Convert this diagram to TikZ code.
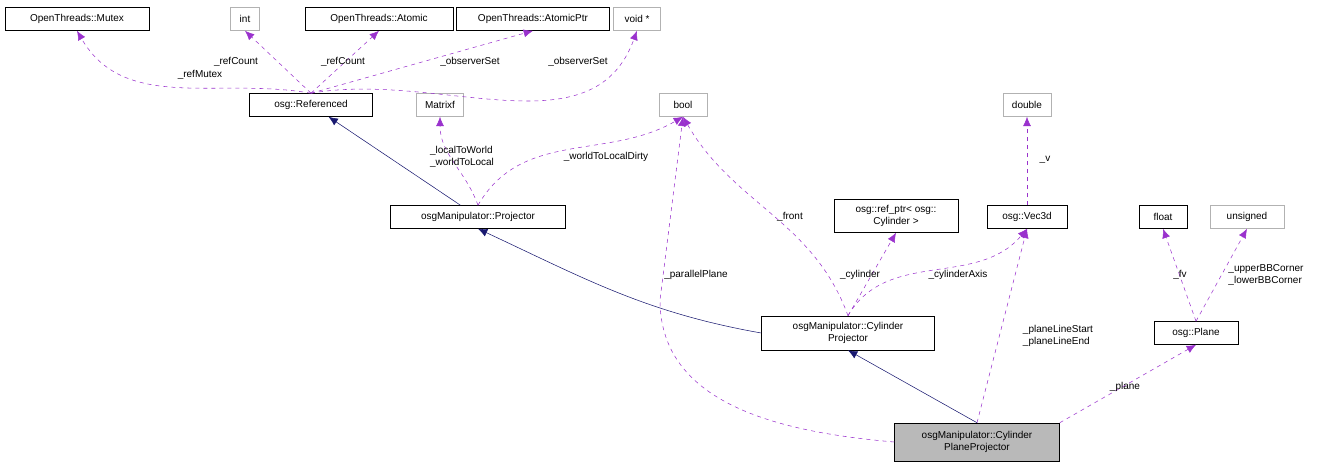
\documentclass[tikz,border=0pt]{standalone}
\usepackage{fontspec}
\setmainfont{Liberation Sans}
\usetikzlibrary{arrows.meta}
\begin{document}
\begin{tikzpicture}[x=0.75pt,y=-0.75pt,
 box/.style={draw=black,fill=white,inner sep=2pt,font=\fontsize{7.5}{8.5}\selectfont,minimum height=17.25pt,align=center},
 gbox/.style={box,draw=gray!60},
 use/.style={draw={rgb,255:red,154;green,50;blue,205},dashed,-{Latex[length=7pt,width=6pt]}},
 inh/.style={draw={rgb,255:red,25;green,25;blue,112},-{Latex[length=7pt,width=6pt]}},
 lbl/.style={font=\fontsize{7.5}{8.5}\selectfont,align=left,inner sep=1pt}]
\useasboundingbox (0,0) rectangle (1335,468);
\node[box,minimum width=108pt] (mutex) at (77,19) {OpenThreads::Mutex};
\node[gbox,minimum width=21.75pt] (int) at (245,19) {int};
\node[box,minimum width=111pt] (atomic) at (379,19) {OpenThreads::Atomic};
\node[box,minimum width=114.75pt] (aptr) at (533,19) {OpenThreads::AtomicPtr};
\node[gbox,minimum width=35.25pt] (void) at (637,19) {void *};
\node[box,minimum width=92.25pt] (ref) at (311,105) {osg::Referenced};
\node[gbox,minimum width=35.25pt] (matrixf) at (440,105) {Matrixf};
\node[gbox,minimum width=36pt] (bool) at (683,105) {bool};
\node[gbox,minimum width=36pt] (double) at (1027,105) {double};
\node[box,minimum width=131.25pt] (proj) at (478,217) {osgManipulator::Projector};
\node[box,minimum width=93pt,minimum height=24.75pt,inner sep=1pt] (refptr) at (896,216) {osg::ref\_ptr< osg::\\Cylinder >};
\node[box,minimum width=60pt] (vec) at (1027,217) {osg::Vec3d};
\node[box,minimum width=36pt] (float) at (1163,217) {float};
\node[gbox,minimum width=55.5pt] (unsigned) at (1247,217) {unsigned};
\node[box,minimum width=129.75pt,minimum height=25.5pt,inner sep=1pt] (cyl) at (848,333) {osgManipulator::Cylinder\\Projector};
\node[box,minimum width=63pt] (plane) at (1196,333) {osg::Plane};
\node[box,fill=gray!55,minimum width=123.75pt,minimum height=28.5pt,inner sep=1pt] (cpp) at (977,442) {osgManipulator::Cylinder\\PlaneProjector};

\draw[inh] (proj) -- (ref);
\draw[inh] (cyl.west) to[out=170,in=-25] (proj.south);
\draw[inh] (cpp.north) -- (cyl.south);

\draw[use] (ref.north) to[out=170,in=-60] (mutex.south);
\draw[use] (ref.north) -- (int.south);
\draw[use] (ref.north) -- (atomic.south);
\draw[use] (ref.north) -- (aptr.south);
\draw[use] (ref.north) to[out=10,in=-110] (void.south);
\draw[use] (proj.north) to[out=110,in=-90] (matrixf.south);
\draw[use] (proj.north) to[out=60,in=-150] (bool.south);
\draw[use] (cyl.north) to[out=110,in=-60] (bool.south);
\draw[use] (cpp.west) to[out=175,in=-90] (660,300) -- (bool.south);
\draw[use] (cyl.north) -- (refptr.south);
\draw[use] (cyl.north) to[out=60,in=-130] (vec.south);
\draw[use] (vec.north) -- (double.south);
\draw[use] (cpp.north) -- (vec.south);
\draw[use] (cpp.north east) -- (plane.south);
\draw[use] (plane.north) -- (float.south);
\draw[use] (plane.north) -- (unsigned.south);

\node[lbl] at (200,75) {\_refMutex};
\node[lbl] at (236,62) {\_refCount};
\node[lbl] at (343,62) {\_refCount};
\node[lbl] at (470,62) {\_observerSet};
\node[lbl] at (578,62) {\_observerSet};
\node[lbl] at (462,157) {\_localToWorld\\\_worldToLocal};
\node[lbl] at (606,157) {\_worldToLocalDirty};
\node[lbl] at (790,217) {\_front};
\node[lbl] at (860,275) {\_cylinder};
\node[lbl] at (958,275) {\_cylinderAxis};
\node[lbl] at (696,275) {\_parallelPlane};
\node[lbl] at (1045,160) {\_v};
\node[lbl] at (1058,336) {\_planeLineStart\\\_planeLineEnd};
\node[lbl] at (1180,275) {\_fv};
\node[lbl] at (1266,275) {\_upperBBCorner\\\_lowerBBCorner};
\node[lbl] at (1125,387) {\_plane};
\end{tikzpicture}
\end{document}
